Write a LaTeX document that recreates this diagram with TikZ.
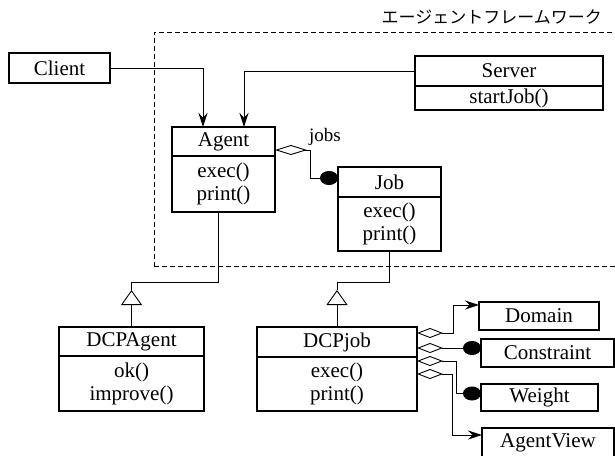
\documentclass[tikz,border=0pt]{standalone}
\usepackage{fontspec}
\setmainfont{Liberation Serif}
\newfontfamily\jpfont{Noto Sans CJK JP}
\usetikzlibrary{arrows.meta}
\begin{document}
\begin{tikzpicture}[x=1pt,y=-1pt,
  box/.style={draw, line width=1.3pt, inner sep=0pt, outer sep=0pt, anchor=north west,
    font=\fontsize{21}{23}\selectfont, align=center},
  body/.style={draw, line width=1.3pt, inner sep=0pt, outer sep=0pt, anchor=north,
    font=\fontsize{21}{23}\selectfont, align=center},
  conn/.style={line width=0.9pt},
  arr/.style={-{Stealth[length=14pt,width=9pt]}},
  gen/.style={-{Triangle[open,length=15pt,width=21pt]}},
  frame/.style={draw, line width=0.9pt, dash pattern=on 5pt off 3pt, inner sep=0pt, outer sep=0pt, anchor=north west}]
\useasboundingbox (0,0) rectangle (615,455);
\clip (0,0) rectangle (615,455);

% framework frame and label
\node[frame, minimum width=480pt, minimum height=234pt] (fw) at (154,32) {};
\node[font=\jpfont\fontsize{17}{17}\selectfont, anchor=east, inner sep=0pt] (fwlabel) at (602,17) {エージェントフレームワーク};

% classes
\node[box, minimum width=101pt, minimum height=30pt] (client) at (9,53) {Client};

\node[box, minimum width=188pt, minimum height=30pt] (server) at (415,56) {Server};
\node[body, minimum width=188pt, minimum height=24pt] (serverb) at (server.south) {startJob()};

\node[box, minimum width=103pt, minimum height=29pt] (agent) at (172,127) {Agent};
\node[body, minimum width=103pt, minimum height=56pt] (agentb) at (agent.south) {exec()\\print()};

\node[box, minimum width=103pt, minimum height=30pt] (job) at (338,167) {Job};
\node[body, minimum width=103pt, minimum height=54pt] (jobb) at (job.south) {exec()\\print()};

\node[box, minimum width=145pt, minimum height=29pt] (dcpagent) at (59,327) {DCPAgent};
\node[body, minimum width=145pt, minimum height=55pt] (dcpagentb) at (dcpagent.south) {ok()\\improve()};

\node[box, minimum width=160pt, minimum height=30pt] (dcpjob) at (257,327) {DCPjob};
\node[body, minimum width=160pt, minimum height=54pt] (dcpjobb) at (dcpjob.south) {exec()\\print()};

\node[box, minimum width=120pt, minimum height=28pt] (domain) at (479,302) {Domain};
\node[box, minimum width=133pt, minimum height=28pt] (constraint) at (481,339) {Constraint};
\node[box, minimum width=117pt, minimum height=27pt] (weight) at (481,384) {Weight};
\node[box, minimum width=132pt, minimum height=30pt] (agentview) at (482,428) {AgentView};

% associations into Agent
\draw[conn, arr] (client.east) -| ([xshift=-20.5pt]agent.north);
\draw[conn, arr] (server.west) -| ([xshift=20.5pt]agent.north);

% Agent -- Job aggregation
\draw[conn, {Diamond[open,length=32pt,width=10pt]}-{Circle[length=18pt,width=14pt]}]
  ([yshift=-8.5pt]agent.east) -- ++(35,0) |- ([yshift=4pt]job.west);
\node[font=\fontsize{19}{19}\selectfont, inner sep=0pt] (jobslbl) at (325,137) {jobs};

% generalizations
\coordinate (ga) at ([yshift=37pt]dcpagent.north);
\draw[conn, gen] (dcpagent.north) -- (ga);
\draw[conn] (ga) -- ++(0,-8) -| ([xshift=-5.5pt]agentb.south);

\coordinate (gj) at ([yshift=37pt]dcpjob.north);
\draw[conn, gen] (dcpjob.north) -- (gj);
\draw[conn] (gj) -- ++(0,-8) -| (jobb.south);

% DCPjob aggregations
\draw[conn, {Diamond[open,length=26pt,width=10pt]}-{Stealth[length=14pt,width=9pt]}]
  ([yshift=-6pt]dcpjob.north east) -- ++(36,0) |- ([yshift=-3pt]domain.north west);
\draw[conn, {Diamond[open,length=26pt,width=10pt]}-{Circle[length=18pt,width=14pt]}]
  ([yshift=-21pt]dcpjob.north east) coordinate (d2) -- (d2 -| constraint.west);
\draw[conn, {Diamond[open,length=26pt,width=10pt]}-{Circle[length=18pt,width=14pt]}]
  ([yshift=-34pt]dcpjob.north east) -- ++(39,0) |- ([yshift=4pt]weight.west);
\draw[conn, {Diamond[open,length=26pt,width=10pt]}-{Stealth[length=14pt,width=9pt]}]
  ([yshift=-47pt]dcpjob.north east) -- ++(35,0) |- ([yshift=8pt]agentview.west);
\end{tikzpicture}
\end{document}
